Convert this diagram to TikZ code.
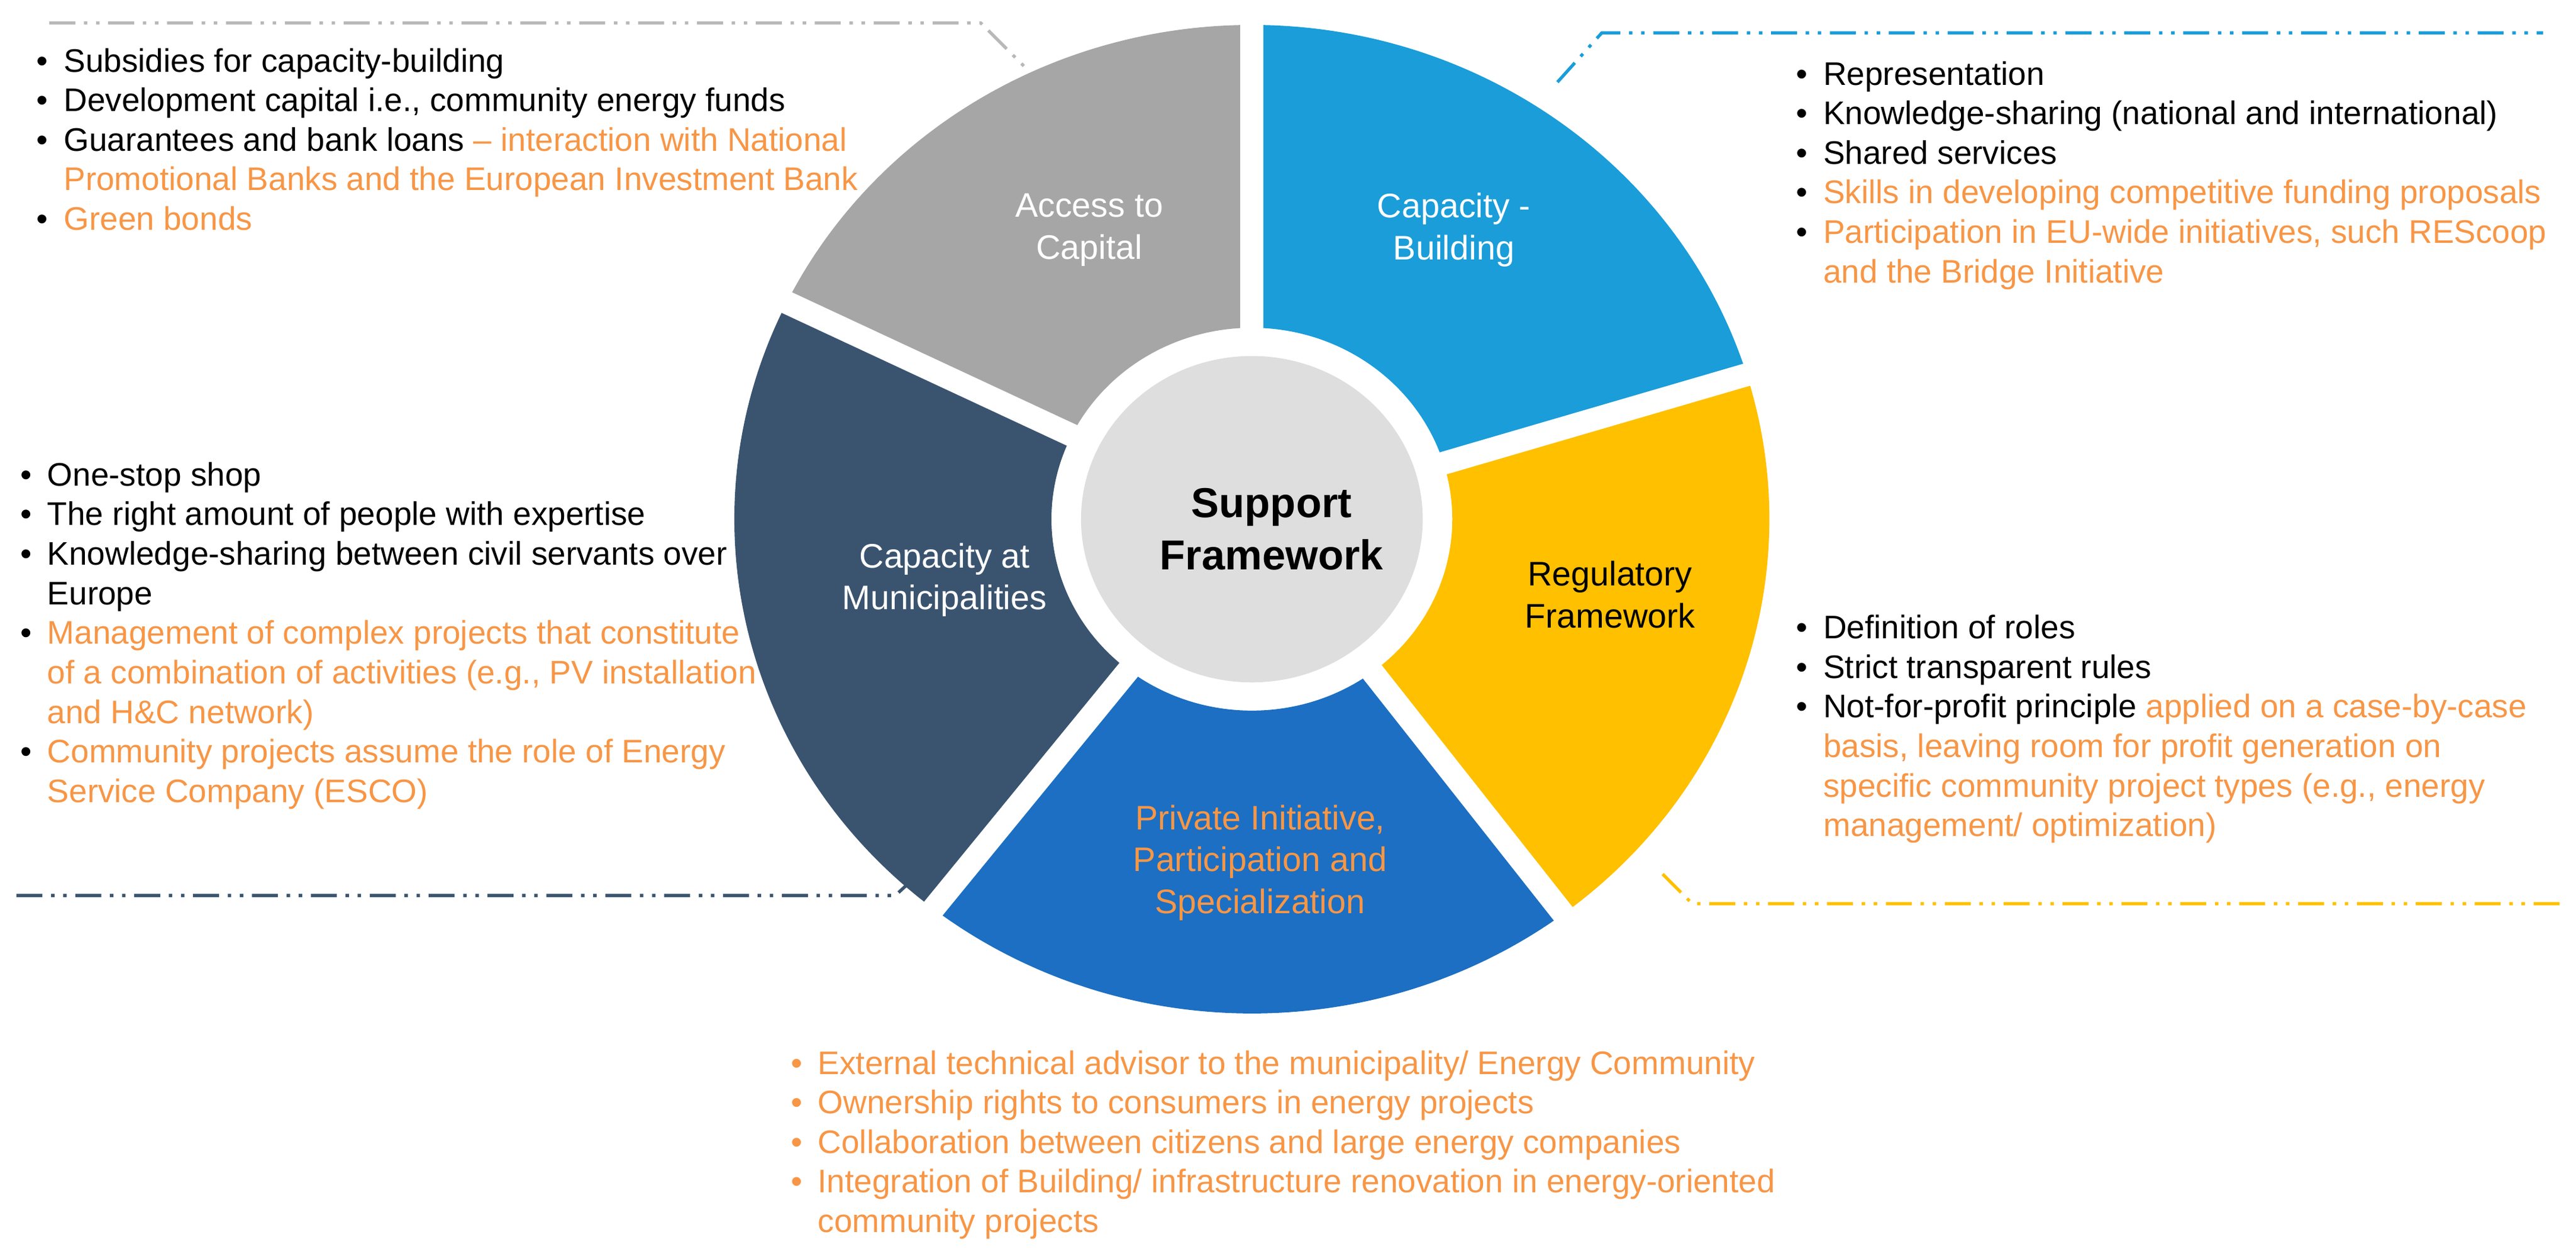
\documentclass[tikz,border=0pt]{standalone}
\usepackage{fontspec}
\setmainfont{Liberation Sans}
\definecolor{cgray}{HTML}{A6A6A6}
\definecolor{cblue}{HTML}{1A9DD9}
\definecolor{cyel}{HTML}{FFC000}
\definecolor{cdblue}{HTML}{1C6FC2}
\definecolor{cslate}{HTML}{3A5470}
\definecolor{corange}{HTML}{F79646}
\definecolor{ccenter}{HTML}{DEDEDE}
\newcommand{\bl}{\makebox[0.33cm][l]{\textbullet}}
\newcommand{\nb}{\hspace*{0.33cm}}
\newcommand{\og}[1]{\textcolor{corange}{#1}}
\tikzset{
  txt/.style={anchor=north west,inner sep=0pt,align=left,font=\fontsize{11.3}{13.7}\selectfont},
  seglab/.style={align=center,font=\fontsize{11.8}{14.5}\selectfont,text=white},
  dl/.style={line width=1.1pt,dash pattern=on 9pt off 3pt on 1.2pt off 3pt on 1.2pt off 3pt}
}
\begin{document}
\begin{tikzpicture}[x=0.02cm,y=-0.02cm]
\useasboundingbox (0,0) rectangle (1568,763);
% ring
\begin{scope}[shift={(762,316)},yscale=-0.955]
  \fill[cgray] (90:315) arc (90:154:315) -- (154:122) arc (154:90:122) -- cycle;
  \fill[cblue] (17:315) arc (17:90:315) -- (90:122) arc (90:17:122) -- cycle;
  \fill[cyel] (-53:315) arc (-53:17:315) -- (17:122) arc (17:-53:122) -- cycle;
  \fill[cdblue] (-128:315) arc (-128:-53:315) -- (-53:122) arc (-53:-128:122) -- cycle;
  \fill[cslate] (154:315) arc (154:232:315) -- (232:122) arc (232:154:122) -- cycle;
  \foreach \a in {90,17,-53,-128,154}
    \draw[white,line width=0.28cm] (0,0) -- (\a:340);
  \fill[ccenter] (0,0) circle (104);
\end{scope}
\node[font=\bfseries\fontsize{14.5}{18}\selectfont,align=center] (c) at (774,322) {Support\\Framework};
\node[seglab] (s1) at (663,140) {Access to\\Capital};
\node[seglab] (s2) at (885,140) {Capacity -\\Building};
\node[seglab,text=black] (s3) at (980,362) {Regulatory\\Framework};
\node[seglab,text=corange] (s4) at (767,525) {Private Initiative,\\Participation and\\Specialization};
\node[seglab] (s5) at (575,353) {Capacity at\\Municipalities};
% dashed leader lines
\coordinate (g1) at (30,14); \coordinate (g2) at (597,14); \coordinate (g3) at (625,42);
\draw[dl,color=cgray!80] (g1) -- (g2) -- (g3);
\coordinate (b1) at (948,50); \coordinate (b2) at (975,20); \coordinate (b3) at (1548,20);
\draw[dl,color=cblue] (b1) -- (b2) -- (b3);
\coordinate (y1) at (1012,532); \coordinate (y2) at (1030,550); \coordinate (y3) at (1562,550);
\draw[dl,color=cyel] (y1) -- (y2) -- (y3);
\coordinate (d1) at (10,545); \coordinate (d2) at (545,545); \coordinate (d3) at (558,533);
\draw[dl,color=cslate] (d1) -- (d2) -- (d3);
% text blocks
\node[txt] (t1) at (22,29) {\bl Subsidies for capacity-building\\
\bl Development capital i.e., community energy funds\\
\bl Guarantees and bank loans \og{-- interaction with National}\\
\nb\og{Promotional Banks and the European Investment Bank}\\
\bl\og{Green bonds}};
\node[txt] (t2) at (1093,37) {\bl Representation\\
\bl Knowledge-sharing (national and international)\\
\bl Shared services\\
\bl\og{Skills in developing competitive funding proposals}\\
\bl\og{Participation in EU-wide initiatives, such REScoop}\\
\nb\og{and the Bridge Initiative}};
\node[txt] (t3) at (12,281) {\bl One-stop shop\\
\bl The right amount of people with expertise\\
\bl Knowledge-sharing between civil servants over\\
\nb Europe\\
\bl\og{Management of complex projects that constitute}\\
\nb\og{of a combination of activities (e.g., PV installation}\\
\nb\og{and H\&C network)}\\
\bl\og{Community projects assume the role of Energy}\\
\nb\og{Service Company (ESCO)}};
\node[txt] (t4) at (1093,374) {\bl Definition of roles\\
\bl Strict transparent rules\\
\bl Not-for-profit principle \og{applied on a case-by-case}\\
\nb\og{basis, leaving room for profit generation on}\\
\nb\og{specific community project types (e.g., energy}\\
\nb\og{management/ optimization)}};
\node[txt,text=corange] (t5) at (481,639) {\bl External technical advisor to the municipality/ Energy Community\\
\bl Ownership rights to consumers in energy projects\\
\bl Collaboration between citizens and large energy companies\\
\bl Integration of Building/ infrastructure renovation in energy-oriented\\
\nb community projects};
\end{tikzpicture}
\end{document}
